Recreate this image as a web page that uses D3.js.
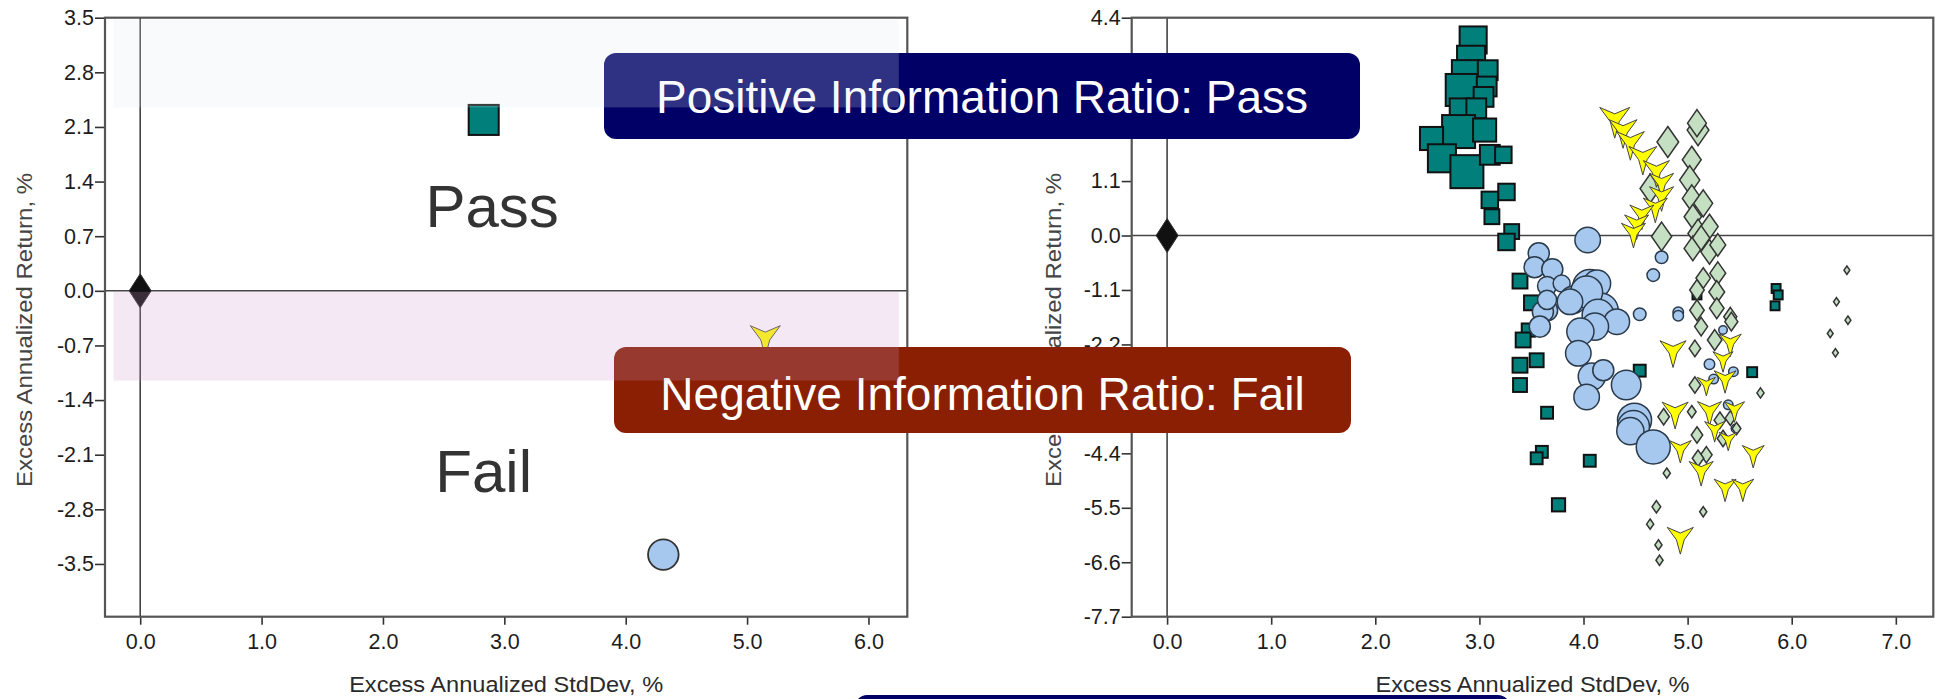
<!DOCTYPE html>
<html><head><meta charset="utf-8">
<script src="https://cdn.jsdelivr.net/npm/d3@7"></script>
<style>html,body{margin:0;padding:0;background:#fff;overflow:hidden}svg{display:block}</style>
</head><body>
<svg id="c" width="1938" height="699"></svg>
<script>
// ---------- data ----------
const xTicksLeft = [0, 1, 2, 3, 4, 5, 6];
const yTicksLeft = [3.5, 2.8, 2.1, 1.4, 0.7, 0.0, -0.7, -1.4, -2.1, -2.8, -3.5];
const xTicksRight = [0, 1, 2, 3, 4, 5, 6, 7];
const yTicksRight = [4.4, 3.3, 2.2, 1.1, 0.0, -1.1, -2.2, -3.3, -4.4, -5.5, -6.6, -7.7];
const xTitle = "Excess Annualized StdDev, %";
const yTitle = "Excess Annualized Return, %";
const boxTexts = ["Positive Information Ratio: Pass", "Negative Information Ratio: Fail", ""];
const zoneLabels = ["Pass", "Fail"];
const zoneLabelX = [2.9, 2.83];
const zoneLabelY = [0.82, -2.58];
const passBand = [2.35, 3.5];
const failBand = [-1.15, 0.0];
const bandX = [-0.22, 6.25];

// left panel (one point per series + benchmark)
const leftSquare = [2.83, 2.19, 9.1];
const leftCircle = [4.31, -3.38, 9.0];
const leftArrow = [5.15, -0.61, 10];
const benchmark = [0, 0];

// right panel series
const sqX = [2.94,2.92,2.88,2.83,3.08,3.07,3.04,2.81,2.97,2.80,2.54,3.05,2.64,2.88,3.10,3.23,3.26,3.10,3.12,3.31,3.26,3.39,3.50,3.47,3.42,3.39,3.55,3.39,3.65,3.60,3.55,4.06,3.76,4.54,5.62,5.85,5.87,5.84,5.09];
const sqY = [3.95,3.55,3.24,2.94,3.34,3.01,2.80,2.57,2.57,2.10,1.96,2.13,1.56,1.29,1.63,1.63,0.88,0.72,0.38,0.08,-0.13,-0.92,-1.36,-1.91,-2.11,-2.62,-2.52,-3.02,-3.58,-4.37,-4.50,-4.55,-5.44,-2.73,-2.76,-1.07,-1.20,-1.42,-1.20];
const sqW = [8.2,8.5,9.1,9.7,6,6,6,6,6,10,7,7,8.5,10,6,5,5,5,4.5,4.5,5,4.5,4.5,4,4.5,4.5,4.2,4.2,3.6,3.6,3.6,3.6,4,3.6,3,2.7,2.7,2.7,2.7];

const cX = [4.04,4.75,4.67,3.57,3.53,3.70,3.65,3.79,4.06,4.13,3.90,4.17,4.03,4.54,4.91,4.91,3.65,3.87,4.14,4.32,4.11,3.97,3.61,3.58,3.65,3.95,4.08,4.19,4.03,4.41,4.49,4.48,4.45,4.67,5.21,5.44,5.25,5.39,5.34,5.46];
const cY = [-0.09,-0.44,-0.80,-0.36,-0.64,-0.68,-1.02,-0.97,-1.03,-0.97,-1.30,-1.51,-1.14,-1.59,-1.55,-1.62,-1.51,-1.34,-1.61,-1.74,-1.84,-1.94,-1.54,-1.84,-1.30,-2.38,-2.85,-2.72,-3.26,-3.02,-3.73,-3.86,-3.95,-4.27,-2.60,-2.75,-2.90,-3.42,-1.91,-3.90];
const cW = [7.5,3.7,3.7,6.2,6.2,6.2,5.6,5,10,8,8,10,9.4,3.7,3.1,3.1,6.2,7.5,9.4,7.5,8,8,6.2,6.2,5.6,7.5,8,6.2,7.5,8.7,10,9.4,8,10,3.1,2.8,2.8,2.8,2.5,2.5];

const dX = [4.81,5.10,5.09,5.04,5.02,4.64,5.04,5.15,5.05,5.10,5.21,4.75,5.05,5.21,5.29,5.29,5.15,5.28,5.09,5.28,5.09,5.41,5.13,5.42,5.26,5.07,5.07,5.04,4.77,5.31,5.41,5.09,5.34,5.18,5.10,5.47,4.80,5.15,4.70,4.64,4.72,4.73,5.70,6.53,6.43,6.54,6.37,6.42,5.13];
const dY = [1.89,2.13,2.27,1.53,1.12,0.95,0.75,0.65,0.38,0.04,0.18,-0.02,-0.26,-0.33,-0.19,-0.76,-0.86,-1.14,-1.10,-1.47,-1.51,-1.64,-1.84,-1.74,-2.11,-2.28,-3.02,-3.56,-3.66,-3.73,-3.69,-4.03,-4.10,-4.43,-4.50,-3.90,-4.80,-5.58,-5.48,-5.83,-6.25,-6.56,-3.18,-0.70,-1.34,-1.71,-1.98,-2.37,-0.05];
const dW = [10,10,8.7,8.7,9.3,9.3,8.7,8.7,8,9.3,8,9.3,8,8,7.3,7.3,6.7,7.3,6.7,6.7,6.7,6,6,6,6.7,5.3,5.3,4,5.3,5.3,4.7,5.3,5.3,5.3,5.3,4,3.3,3.3,4,3.3,3.3,3.3,3.3,2.7,2.7,2.7,2.7,2.7,8];

const aX = [4.30,4.38,4.45,4.57,4.70,4.75,4.75,4.69,4.56,4.51,4.48,4.86,5.41,5.34,5.36,5.18,4.88,5.21,5.45,5.26,5.39,4.93,5.13,5.63,5.36,5.53,4.93];
const aY = [2.33,2.10,1.86,1.56,1.29,1.05,0.78,0.55,0.41,0.21,0.04,-2.35,-2.18,-2.52,-2.92,-3.02,-3.59,-3.56,-3.53,-3.93,-4.13,-4.33,-4.77,-4.43,-5.11,-5.11,-6.12];
const aW = [10,9.3,9.3,9.3,8.7,8,8,8,8,8,8,8.7,7.3,6.7,7.3,6,8.7,8,6.7,6.7,6,7.3,8,7.3,7.3,7.3,8.7];

// ---------- layout ----------
const svg = d3.select("#c");
const FONT = "'Liberation Sans', Arial, Helvetica, sans-serif";
const COL = {teal: "#007f7b", blue: "#a6c8ee", yellow: "#ffff00", green: "#c4dfc1", navy: "#000066", red: "#8a1f03"};

const panels = [
  {x0: 105, x1: 907.3, y0: 17.7, y1: 616.7, xd: [-0.29, 6.32], yd: [-4.176, 3.5], xt: xTicksLeft, yt: yTicksLeft, ytx: 32},
  {x0: 1131.7, x1: 1933.3, y0: 17.7, y1: 616.7, xd: [-0.34, 7.36], yd: [-7.7, 4.4], xt: xTicksRight, yt: yTicksRight, ytx: 1061}
];
panels.forEach(p => {
  p.x = d3.scaleLinear().domain(p.xd).range([p.x0, p.x1]);
  p.y = d3.scaleLinear().domain(p.yd).range([p.y1, p.y0]);
});

const sqSize = d3.scaleLinear().domain([0, 10]).range([0, 33]);
const cR = d3.scaleLinear().domain([0, 10]).range([0, 17]);
const aS = d3.scaleLinear().domain([0, 10]).range([0, 15]);
const dH = d3.scaleLinear().domain([0, 10]).range([0, 15.5]);

function arrowPath(s) {
  const p = [[0,-0.42],[1,-0.85],[0.3,0.1],[0,1.2],[-0.3,0.1],[-1,-0.85]];
  return "M" + p.map(q => (q[0]*s).toFixed(2) + "," + (q[1]*s).toFixed(2)).join("L") + "Z";
}
function diamondPath(h) {
  const w = h * 0.7;
  return `M0,${-h}L${w},0L0,${h}L${-w},0Z`;
}

const fmt = d => d.toFixed(1);

panels.forEach((p, i) => {
  const g = svg.append("g");
  const ya = g.append("g").attr("transform", `translate(${p.x0},0)`)
    .call(d3.axisLeft(p.y).tickValues(p.yt).tickFormat(fmt).tickSize(10).tickSizeOuter(0).tickPadding(1));
  const xa = g.append("g").attr("transform", `translate(0,${p.y1})`)
    .call(d3.axisBottom(p.x).tickValues(p.xt).tickFormat(fmt).tickSize(8).tickSizeOuter(0).tickPadding(9));
  [ya, xa].forEach(a => {
    a.select(".domain").remove();
    a.selectAll(".tick line").attr("stroke", "#333").attr("stroke-width", 1.6);
    a.selectAll(".tick text").attr("fill", "#1c1c1c").style("font-family", FONT).style("font-size", "21.5px");
  });
  g.append("line").attr("x1", p.x(0)).attr("x2", p.x(0)).attr("y1", p.y0).attr("y2", p.y1)
    .attr("stroke", "#444").attr("stroke-width", 1.6);
  g.append("line").attr("x1", p.x0).attr("x2", p.x1).attr("y1", p.y(0)).attr("y2", p.y(0))
    .attr("stroke", "#444").attr("stroke-width", 1.6);
  g.append("rect").attr("x", p.x0).attr("y", p.y0).attr("width", p.x1 - p.x0).attr("height", p.y1 - p.y0)
    .attr("fill", "none").attr("stroke", "#555").attr("stroke-width", 2.2);
  g.append("text").attr("x", (p.x0 + p.x1) / 2).attr("y", 692).attr("text-anchor", "middle")
    .attr("fill", "#2a2a2a").style("font-family", FONT).style("font-size", "22px")
    .attr("textLength", 314).attr("lengthAdjust", "spacingAndGlyphs").text(xTitle);
  g.append("text").attr("transform", `translate(${p.ytx},330) rotate(-90)`).attr("text-anchor", "middle")
    .attr("fill", "#444").style("font-family", FONT).style("font-size", "22px")
    .attr("textLength", 314).attr("lengthAdjust", "spacingAndGlyphs").text(yTitle);
  g.append("path").attr("d", "M0,-17L11,0L0,17L-11,0Z").attr("fill", "#111").attr("stroke", "#333").attr("stroke-width", 1)
    .attr("transform", `translate(${p.x(benchmark[0])},${p.y(benchmark[1])})`);
});

const PL = panels[0], PR = panels[1];
{
  const g = svg.append("g");
  const s = sqSize(leftSquare[2]);
  g.append("rect").attr("x", PL.x(leftSquare[0]) - s/2).attr("y", PL.y(leftSquare[1]) - s/2)
    .attr("width", s).attr("height", s).attr("fill", COL.teal).attr("stroke", "#111").attr("stroke-width", 2);
  g.append("circle").attr("cx", PL.x(leftCircle[0])).attr("cy", PL.y(leftCircle[1])).attr("r", cR(leftCircle[2]))
    .attr("fill", COL.blue).attr("stroke", "#333").attr("stroke-width", 1.8);
  g.append("path").attr("d", arrowPath(aS(leftArrow[2]))).attr("fill", COL.yellow).attr("stroke", "#555").attr("stroke-width", 1)
    .attr("transform", `translate(${PL.x(leftArrow[0])},${PL.y(leftArrow[1])})`);
  zoneLabels.forEach((t, i) => {
    g.append("text").attr("x", PL.x(zoneLabelX[i])).attr("y", PL.y(zoneLabelY[i])).attr("text-anchor", "middle")
      .attr("fill", "#333").style("font-family", FONT).style("font-size", "60px").text(t);
  });
}

{
  const g = svg.append("g");
  g.selectAll("rect.sq").data(d3.range(sqX.length)).join("rect")
    .attr("x", i => PR.x(sqX[i]) - sqSize(sqW[i]) / 2).attr("y", i => PR.y(sqY[i]) - sqSize(sqW[i]) / 2)
    .attr("width", i => sqSize(sqW[i])).attr("height", i => sqSize(sqW[i]))
    .attr("fill", COL.teal).attr("stroke", "#111").attr("stroke-width", 2);
  g.selectAll("circle.c").data(d3.range(cX.length)).join("circle")
    .attr("cx", i => PR.x(cX[i])).attr("cy", i => PR.y(cY[i])).attr("r", i => cR(cW[i]))
    .attr("fill", COL.blue).attr("stroke", "#2a3a4a").attr("stroke-width", 1.5);
  g.selectAll("path.d").data(d3.range(dX.length)).join("path")
    .attr("d", i => diamondPath(dH(dW[i])))
    .attr("transform", i => `translate(${PR.x(dX[i])},${PR.y(dY[i])})`)
    .attr("fill", COL.green).attr("stroke", "#333").attr("stroke-width", 1.5);
  g.selectAll("path.a").data(d3.range(aX.length)).join("path")
    .attr("d", i => arrowPath(aS(aW[i])))
    .attr("transform", i => `translate(${PR.x(aX[i])},${PR.y(aY[i])})`)
    .attr("fill", COL.yellow).attr("stroke", "#444").attr("stroke-width", 1);
}

const boxes = [
  {x: 604, y: 53, w: 756, h: 86, fill: COL.navy, ty: 113},
  {x: 614, y: 347, w: 737, h: 86, fill: COL.red, ty: 410},
  {x: 855, y: 695, w: 655, h: 80, fill: COL.navy, ty: 760}
];
boxes.forEach((b, i) => {
  svg.append("rect").attr("x", b.x).attr("y", b.y).attr("width", b.w).attr("height", b.h)
    .attr("rx", 12).attr("fill", b.fill);
  if (boxTexts[i]) svg.append("text").attr("x", b.x + b.w / 2).attr("y", b.ty).attr("text-anchor", "middle")
    .attr("fill", "#fff").style("font-family", FONT).style("font-size", "46px").text(boxTexts[i]);
});

svg.append("rect").attr("x", PL.x(bandX[0])).attr("width", PL.x(bandX[1]) - PL.x(bandX[0]))
  .attr("y", PL.y(passBand[1]) + 1.5).attr("height", PL.y(passBand[0]) - PL.y(passBand[1]) - 1.5)
  .attr("fill", "rgb(222,230,242)").attr("fill-opacity", 0.21);
svg.append("rect").attr("x", PL.x(bandX[0])).attr("width", PL.x(bandX[1]) - PL.x(bandX[0]))
  .attr("y", PL.y(failBand[1]) + 1).attr("height", PL.y(failBand[0]) - PL.y(failBand[1]) - 1)
  .attr("fill", "rgb(200,150,205)").attr("fill-opacity", 0.22);
</script>
</body></html>
